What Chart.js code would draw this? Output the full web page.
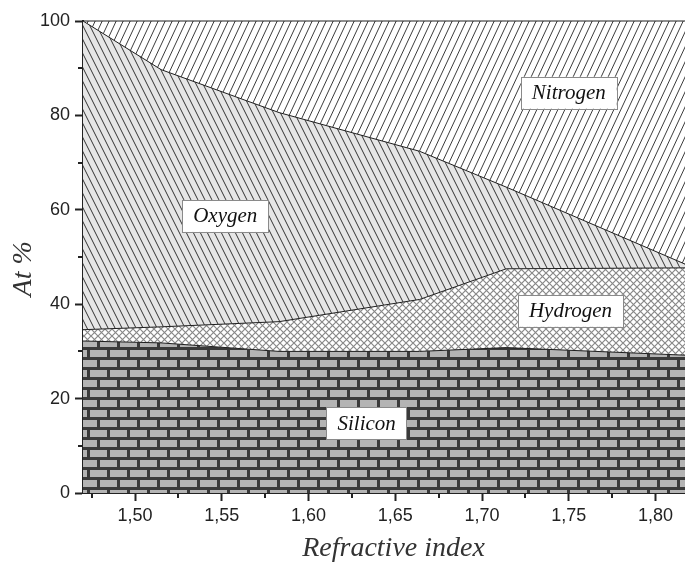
<!DOCTYPE html>
<html>
<head>
<meta charset="utf-8">
<title>At % vs refractive index</title>
<script src="https://cdn.jsdelivr.net/npm/chart.js"></script>
<style>
  html, body { margin: 0; padding: 0; background: #fff; }
  #wrap { width: 685px; height: 564px; position: relative; }
</style>
</head>
<body>
<div id="wrap"><canvas id="model"></canvas></div>
<script>
// composition of the films (at %), one value per measured sample
const refractiveIndex = [1.47, 1.515, 1.583, 1.664, 1.714, 1.817]
const silicon  = [32.2, 31.8, 30.0, 30.0, 30.8, 29.2]
const hydrogen = [2.4, 3.4, 6.3, 11.0, 16.7, 18.5]
const oxygen   = [65.4, 54.5, 44.3, 31.4, 17.3, 0.8]
const nitrogen = [0.0, 10.3, 19.4, 27.6, 35.2, 51.5]

// axis ticks
const xTicks = [1.50, 1.55, 1.60, 1.65, 1.70, 1.75, 1.80]
const xMinorTicks = [1.475, 1.525, 1.575, 1.625, 1.675, 1.725, 1.775]
const yTicks = [0, 20, 40, 60, 80, 100]
const yMinorTicks = [10, 30, 50, 70, 90]

// names written in the boxes, and where (in data units) they sit
const labelNames = ['Nitrogen', 'Oxygen', 'Hydrogen', 'Silicon']
const labelX = [1.750, 1.552, 1.751, 1.6335]
const labelY = [84.8, 58.7, 38.6, 14.8]

const serif = '"Liberation Serif", "DejaVu Serif", serif'
const sans = '"Liberation Sans", Arial, sans-serif'

/**
 * Build a repeating fill from a small offscreen tile.
 * @param {Number} w tile width
 * @param {Number} h tile height
 * @param {Function} paint draws into the tile
 */
function makePattern(w, h, paint) {
    let c = document.createElement('canvas')
    c.width = w
    c.height = h
    let ctx = c.getContext('2d')
    paint(ctx, w, h)
    return ctx.createPattern(c, 'repeat')
}

// brick wall for silicon
const bricks = makePattern(20, 20, (ctx) => {
    ctx.fillStyle = '#3a3a3a'
    ctx.fillRect(0, 0, 20, 20)
    ctx.fillStyle = '#b4b4b4'
    ctx.fillRect(0, 0, 17, 7)
    ctx.fillRect(10, 10, 17, 7)
    ctx.fillRect(-10, 10, 17, 7)
})

// fine diamond mesh for hydrogen
const mesh = makePattern(7, 7, (ctx) => {
    ctx.fillStyle = '#ffffff'
    ctx.fillRect(0, 0, 7, 7)
    ctx.strokeStyle = '#888888'
    ctx.lineWidth = 1.2
    ctx.beginPath()
    ctx.moveTo(0, 0); ctx.lineTo(7, 7)
    ctx.moveTo(0, 7); ctx.lineTo(7, 0)
    ctx.stroke()
})

// back-slash hatch on light grey for oxygen
const backHatch = makePattern(7, 14, (ctx, w, h) => {
    ctx.fillStyle = '#e6e6e6'
    ctx.fillRect(0, 0, w, h)
    ctx.strokeStyle = '#333333'
    ctx.lineWidth = 1
    ctx.beginPath()
    for (let x0 = -w; x0 <= w; x0 += w) {
        ctx.moveTo(x0, 0)
        ctx.lineTo(x0 + w, h)
    }
    ctx.stroke()
})

// forward-slash hatch on white for nitrogen
const fwdHatch = makePattern(7, 15, (ctx, w, h) => {
    ctx.fillStyle = '#ffffff'
    ctx.fillRect(0, 0, w, h)
    ctx.strokeStyle = '#3c3c3c'
    ctx.lineWidth = 1
    ctx.beginPath()
    for (let x0 = -w; x0 <= w; x0 += w) {
        ctx.moveTo(x0, h)
        ctx.lineTo(x0 + w, 0)
    }
    ctx.stroke()
})

function series(values) {
    return refractiveIndex.map((x, i) => ({ x: x, y: values[i] }))
}

const fmtComma = v => v.toFixed(2).replace('.', ',')

// minor ticks, axis titles and the white name boxes
const extras = {
    id: 'extras',
    afterDraw(chart) {
        let ctx = chart.ctx
        let xs = chart.scales.x
        let ys = chart.scales.y
        let area = chart.chartArea

        ctx.save()
        ctx.strokeStyle = '#222'
        ctx.lineWidth = 2
        ctx.beginPath()
        xMinorTicks.forEach(v => {
            let px = Math.round(xs.getPixelForValue(v))
            ctx.moveTo(px, area.bottom)
            ctx.lineTo(px, area.bottom + 5)
        })
        yMinorTicks.forEach(v => {
            let py = Math.round(ys.getPixelForValue(v))
            ctx.moveTo(area.left, py)
            ctx.lineTo(area.left - 5, py)
        })
        ctx.stroke()

        // axis titles
        ctx.fillStyle = '#333'
        ctx.textAlign = 'center'
        ctx.textBaseline = 'alphabetic'
        ctx.font = 'italic 28px ' + serif
        ctx.fillText('Refractive index', xs.getPixelForValue(1.649), chart.height - 8)
        ctx.save()
        ctx.translate(31, ys.getPixelForValue(47.5))
        ctx.rotate(-Math.PI / 2)
        ctx.fillText('At %', 0, 0)
        ctx.restore()

        ctx.font = 'italic 21px ' + serif
        ctx.textBaseline = 'middle'
        labelNames.forEach((name, i) => {
            let cx = xs.getPixelForValue(labelX[i])
            let cy = ys.getPixelForValue(labelY[i])
            let w = ctx.measureText(name).width + 22
            let h = 32
            ctx.fillStyle = '#fff'
            ctx.fillRect(cx - w / 2, cy - h / 2, w, h)
            ctx.strokeStyle = '#8a8a8a'
            ctx.lineWidth = 1
            ctx.strokeRect(Math.round(cx - w / 2) + 0.5, Math.round(cy - h / 2) + 0.5, Math.round(w), h)
            ctx.fillStyle = '#111'
            ctx.fillText(name, cx, cy + 1)
        })
        ctx.restore()
    }
}

const edge = '#1e1e1e'

let chart = new Chart(document.getElementById('model'), {
    type: 'line',
    data: {
        datasets: [{
            label: 'Silicon',
            data: series(silicon),
            backgroundColor: bricks,
            fill: 'origin'
        },
        {
            label: 'Hydrogen',
            data: series(hydrogen),
            backgroundColor: mesh,
            fill: '-1'
        },
        {
            label: 'Oxygen',
            data: series(oxygen),
            backgroundColor: backHatch,
            fill: '-1'
        },
        {
            label: 'Nitrogen',
            data: series(nitrogen),
            backgroundColor: fwdHatch,
            fill: '-1'
        }]
    },
    options: {
        responsive: true,
        maintainAspectRatio: false,
        animation: false,
        layout: { padding: { top: 21, right: 0, bottom: 0, left: 0 } },
        elements: {
            line: { borderColor: edge, borderWidth: 1, tension: 0 },
            point: { radius: 0, hoverRadius: 0 }
        },
        datasets: { line: { clip: 2 } },
        plugins: {
            legend: { display: false },
            tooltip: { enabled: false }
        },
        scales: {
            x: {
                type: 'linear',
                min: 1.47,
                max: 1.817,
                z: 1,
                afterBuildTicks: s => { s.ticks = xTicks.map(v => ({ value: v })) },
                afterFit: s => { s.height = 71 },
                ticks: {
                    callback: v => fmtComma(v),
                    font: { family: sans, size: 18 },
                    color: '#222',
                    padding: 4,
                    maxRotation: 0,
                    autoSkip: false
                },
                grid: {
                    drawOnChartArea: false,
                    drawTicks: true,
                    tickLength: 8,
                    tickWidth: 2,
                    tickColor: '#222'
                },
                border: { display: true, color: '#222', width: 2 }
            },
            y: {
                type: 'linear',
                stacked: true,
                min: 0,
                max: 100,
                z: 1,
                afterBuildTicks: s => { s.ticks = yTicks.map(v => ({ value: v })) },
                afterFit: s => { s.width = 83 },
                ticks: {
                    font: { family: sans, size: 18 },
                    color: '#222',
                    padding: 5
                },
                grid: {
                    drawOnChartArea: false,
                    drawTicks: true,
                    tickLength: 8,
                    tickWidth: 2,
                    tickColor: '#222'
                },
                border: { display: true, color: '#222', width: 2 }
            }
        }
    },
    plugins: [extras]
})
</script>
</body>
</html>
